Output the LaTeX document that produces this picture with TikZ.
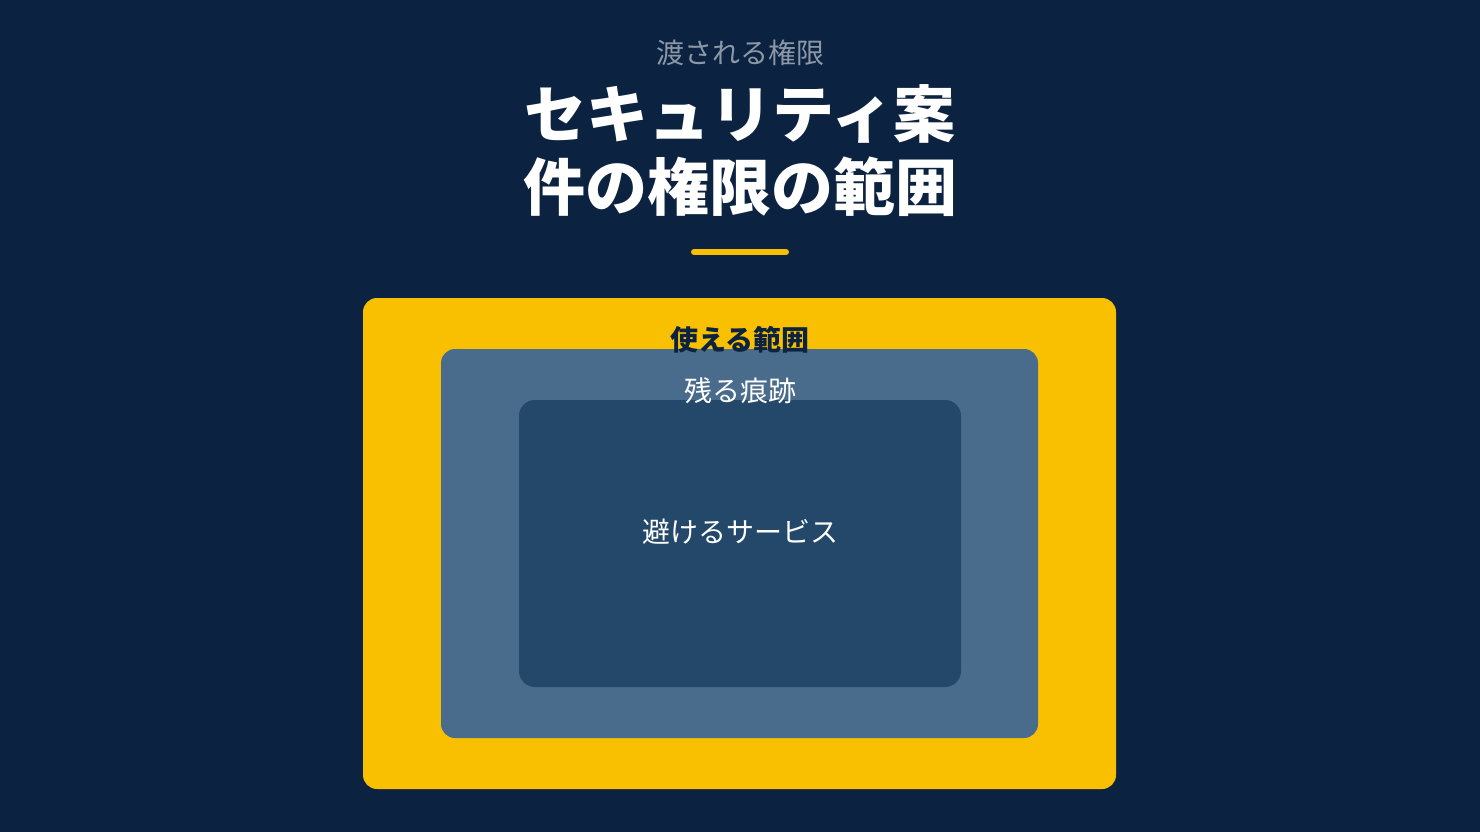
\documentclass[tikz,border=0pt]{standalone}
\usepackage{fontspec}
\setmainfont{Noto Sans CJK JP}
\usetikzlibrary{positioning}
\definecolor{navy}{RGB}{11,35,64}
\definecolor{gold}{RGB}{248,192,0}
\definecolor{slate}{RGB}{74,108,140}
\definecolor{deep}{RGB}{36,72,106}
\definecolor{greytext}{RGB}{140,152,168}
\begin{document}
\begin{tikzpicture}[x=1pt,y=-1pt,
  layer/.style={rounded corners=14pt},
  label/.style={inner sep=0pt,font=\fontsize{28}{32}\selectfont}]
%背景
\fill[navy] (0,0) rectangle (1480,832);
\useasboundingbox (0,0) rectangle (1480,832);
%タイトル
\node[label,text=greytext] (sub) at (740,53) {渡される権限};
\node[inner sep=0pt,text=white,align=center,font=\fontsize{62}{73}\selectfont\bfseries] (title) at (740,151) {セキュリティ案\\件の権限の範囲};
\coordinate (L1) at (694,252);
\coordinate[right=92 of L1] (L2);
\draw[gold,line width=6pt,line cap=round] (L1) -- (L2);
%入れ子の枠
\fill[gold,layer] (363,298) rectangle (1116,789);
\fill[slate,layer] (441,349) rectangle (1038,738);
\fill[deep,layer,rounded corners=16pt] (519,400) rectangle (961,687);
\node[label,text=navy,font=\fontsize{28}{32}\selectfont\bfseries] (use) at (740,340) {使える範囲};
\node[label,text=white] (trace) at (740,391) {残る痕跡};
\node[label,text=white] (avoid) at (740,532) {避けるサービス};
\end{tikzpicture}
\end{document}
